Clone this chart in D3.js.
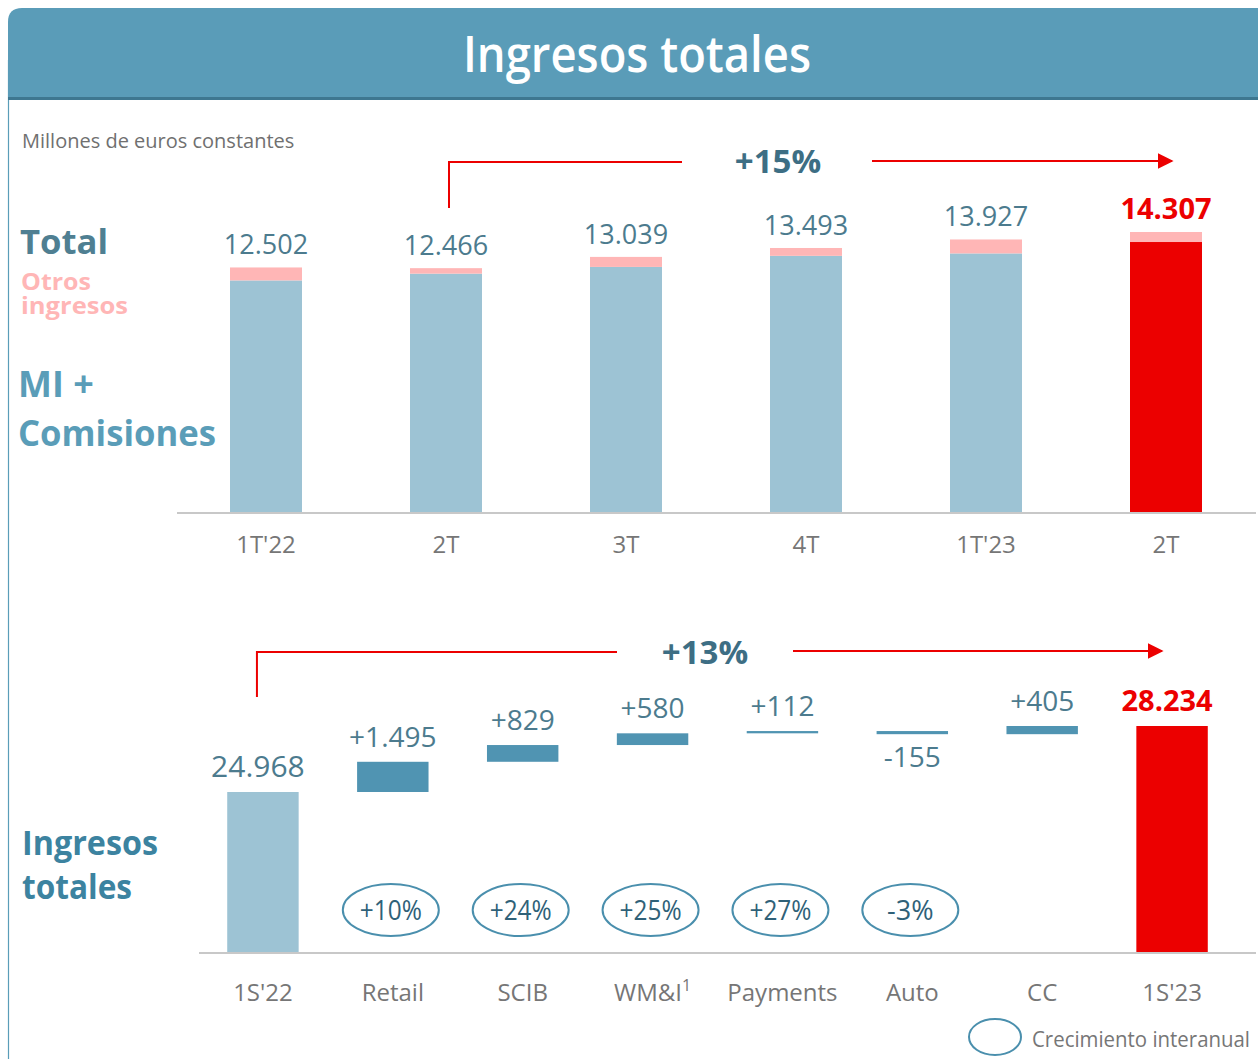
<!DOCTYPE html>
<html><head><meta charset="utf-8">
<script src="https://cdn.jsdelivr.net/npm/d3@7"></script>
<style>
html,body{margin:0;padding:0;background:#fff;}
svg{display:block;font-family:"Open Sans","Lato",sans-serif;}
</style></head>
<body><svg id="c" width="1258" height="1059"></svg>
<script>
// ---- data ----
const topCategories = ["1T'22","2T","3T","4T","1T'23","2T"];
const topTotals = [12502, 12466, 13039, 13493, 13927, 14307];
const topOtros = [660, 280, 510, 400, 710, 510];
const topLabels = ["12.502","12.466","13.039","13.493","13.927","14.307"];

const wfCategories = ["1S'22","Retail","SCIB","WM&I","Payments","Auto","CC","1S'23"];
const wfValues = [24968, 1495, 829, 580, 112, -155, 405, 28234];
const wfLabels = ["24.968","+1.495","+829","+580","+112","-155","+405","28.234"];
const wfGrowth = [null, "+10%", "+24%", "+25%", "+27%", "-3%", null, null];

const C = {
  header:"#5a9cb8", headerDark:"#3e7790", light:"#9dc3d4", dark:"#5094b2",
  red:"#ec0000", pink:"#ffb6b6", label:"#4c7b8e", axis:"#c8c8c8", tick:"#767676",
  teal:"#5a9db8", tealDark:"#3c83a0"
};

const svg = d3.select("#c");

// ---- frame / header ----
svg.append("line").attr("x1",8.5).attr("x2",8.5).attr("y1",60).attr("y2",1059)
  .attr("stroke",C.teal).attr("stroke-width",1.2);
svg.append("path")
  .attr("d","M8,100 L8,22 Q8,8 22,8 L1258,8 L1258,100 Z")
  .attr("fill",C.header);
svg.append("rect").attr("x",8).attr("y",97).attr("width",1250).attr("height",3).attr("fill",C.headerDark);
svg.append("text").attr("x",637).attr("y",72).attr("text-anchor","middle")
  .attr("fill","#fff").attr("font-size",50).attr("font-weight",600)
  .attr("textLength",348).attr("lengthAdjust","spacingAndGlyphs")
  .text("Ingresos totales");

svg.append("text").attr("x",22).attr("y",148).attr("fill","#707070")
  .attr("font-size",20).text("Millones de euros constantes");

// left labels top
svg.append("text").attr("x",20).attr("y",254).attr("fill","#4f7f92").attr("font-size",34)
  .attr("font-weight",700).attr("textLength",88).attr("lengthAdjust","spacingAndGlyphs").text("Total");
const otros = svg.append("text").attr("x",21).attr("y",290).attr("fill",C.pink).attr("font-size",23)
  .attr("font-weight",700);
otros.append("tspan").attr("x",21).attr("textLength",70).attr("lengthAdjust","spacingAndGlyphs").text("Otros");
otros.append("tspan").attr("x",21).attr("dy",24).attr("textLength",107).attr("lengthAdjust","spacingAndGlyphs").text("ingresos");
svg.append("text").attr("x",18).attr("y",397).attr("fill",C.teal).attr("font-size",36)
  .attr("font-weight",700).text("MI +");
svg.append("text").attr("x",18).attr("y",446).attr("fill",C.teal).attr("font-size",36)
  .attr("font-weight",700).attr("textLength",198).attr("lengthAdjust","spacingAndGlyphs").text("Comisiones");

// ---- top chart ----
const xT = d3.scaleBand().domain(d3.range(topCategories.length)).range([176,1256])
  .paddingInner(0.6).paddingOuter(0.3);
const yT = d3.scaleLinear().domain([0, 14307]).range([513, 232]);

const gT = svg.append("g");
topTotals.forEach((t,i)=>{
  const isLast = i === topTotals.length-1;
  const base = t - topOtros[i];
  gT.append("rect").attr("x",xT(i)).attr("width",xT.bandwidth())
    .attr("y",yT(base)).attr("height",yT(0)-yT(base))
    .attr("fill", isLast ? C.red : C.light);
  gT.append("rect").attr("x",xT(i)).attr("width",xT.bandwidth())
    .attr("y",yT(t)).attr("height",yT(base)-yT(t))
    .attr("fill", C.pink);
  gT.append("text").attr("x",xT(i)+xT.bandwidth()/2).attr("y",yT(t)-13)
    .attr("text-anchor","middle").attr("font-size",isLast?29:27)
    .attr("font-weight",isLast?700:400)
    .attr("fill",isLast?C.red:C.label).text(topLabels[i]);
});
const axT = d3.axisBottom(xT).tickFormat(i=>topCategories[i]).tickSize(0).tickPadding(23);
const axTg = svg.append("g").attr("transform","translate(0,513)").call(axT);
axTg.select(".domain").attr("d","M177,0H1256").attr("stroke",C.axis).attr("stroke-width",2);
axTg.selectAll("text").attr("font-size",24).attr("fill",C.tick).attr("font-family","Open Sans");

// top annotation
const defs = svg.append("defs");
defs.append("marker").attr("id","arr").attr("viewBox","0 0 10 10").attr("refX",9).attr("refY",5)
  .attr("markerWidth",16).attr("markerHeight",16).attr("orient","auto").attr("markerUnits","userSpaceOnUse")
  .append("path").attr("d","M0,0 L10,5 L0,10 Z").attr("fill",C.red);

const x2T = xT(1)+xT.bandwidth()/2 + 3;
svg.append("path").attr("d",`M${x2T},208 V162 H682`).attr("fill","none").attr("stroke",C.red).attr("stroke-width",2);
svg.append("path").attr("d","M872,161 H1172").attr("fill","none").attr("stroke",C.red).attr("stroke-width",2)
  .attr("marker-end","url(#arr)");
svg.append("text").attr("x",778).attr("y",173).attr("text-anchor","middle").attr("font-size",33)
  .attr("font-weight",700).attr("fill","#3d6e84").text("+15%");

// ---- waterfall ----
svg.append("text").attr("x",22).attr("y",855).attr("fill",C.tealDark).attr("font-size",34)
  .attr("font-weight",700).attr("textLength",136).attr("lengthAdjust","spacingAndGlyphs").text("Ingresos");
svg.append("text").attr("x",22).attr("y",899).attr("fill",C.tealDark).attr("font-size",34)
  .attr("font-weight",700).attr("textLength",110).attr("lengthAdjust","spacingAndGlyphs").text("totales");

const xB = d3.scaleBand().domain(d3.range(wfCategories.length)).range([198,1237])
  .paddingInner(0.45).paddingOuter(0.225);
const yB = d3.scaleLinear().domain([17000, 28234]).range([953, 726]);

let run = 0;
const gB = svg.append("g");
wfValues.forEach((v,i)=>{
  const first = i===0, last = i===wfValues.length-1;
  let y0, y1, fill;
  if(first){ y0 = yB.domain()[0]; y1 = v; run = v; fill = C.light; }
  else if(last){ y0 = yB.domain()[0]; y1 = v; fill = C.red; }
  else { y0 = run; y1 = run + v; run = y1; fill = C.dark; }
  const top = yB(Math.max(y0,y1)), bot = yB(Math.min(y0,y1));
  gB.append("rect").attr("x",xB(i)).attr("width",xB.bandwidth())
    .attr("y",top).attr("height",Math.max(bot-top,2)).attr("fill",fill);
  const cx = xB(i)+xB.bandwidth()/2;
  const below = v < 0 && !first && !last;
  gB.append("text").attr("x",(first||last) ? cx-5 : cx).attr("y", below ? bot+33 : top-15)
    .attr("text-anchor","middle").attr("font-size",last?29:(first?30:28)).attr("font-weight",last?700:400)
    .attr("fill",last?C.red:C.label).text(wfLabels[i]);
  if(wfGrowth[i]){
    gB.append("ellipse").attr("cx",cx-2).attr("cy",910).attr("rx",48).attr("ry",26)
      .attr("fill","none").attr("stroke","#4a8fad").attr("stroke-width",2);
    gB.append("text").attr("x",cx-2).attr("y",920).attr("text-anchor","middle")
      .attr("font-size",28).attr("fill","#2f6178")
      .attr("textLength", wfGrowth[i].length*15.5).attr("lengthAdjust","spacingAndGlyphs")
      .text(wfGrowth[i]);
  }
});
const axB = d3.axisBottom(xB).tickFormat(i=>wfCategories[i]).tickSize(0).tickPadding(31);
const axBg = svg.append("g").attr("transform","translate(0,953)").call(axB);
axBg.select(".domain").attr("d","M199,0H1256").attr("stroke",C.axis).attr("stroke-width",2);
axBg.selectAll("text").attr("font-size",24).attr("fill",C.tick).attr("font-family","Open Sans");
// superscript for WM&I
axBg.selectAll(".tick").filter(i=>wfCategories[i]==="WM&I").select("text")
  .append("tspan").attr("dy","-0.6em").attr("font-size",16).text("1");

// bottom annotation
const x1B = xB(0)+xB.bandwidth()/2 - 6;
svg.append("path").attr("d",`M${x1B},697 V652 H617`).attr("fill","none").attr("stroke",C.red).attr("stroke-width",2);
svg.append("path").attr("d","M793,651 H1162").attr("fill","none").attr("stroke",C.red).attr("stroke-width",2)
  .attr("marker-end","url(#arr)");
svg.append("text").attr("x",705).attr("y",664).attr("text-anchor","middle").attr("font-size",33)
  .attr("font-weight",700).attr("fill","#3d6e84").text("+13%");

// legend
svg.append("ellipse").attr("cx",995).attr("cy",1037).attr("rx",26).attr("ry",18)
  .attr("fill","none").attr("stroke","#4a8fad").attr("stroke-width",2);
svg.append("text").attr("x",1032).attr("y",1047).attr("font-size",21).attr("fill",C.tick)
  .attr("textLength",218).attr("lengthAdjust","spacingAndGlyphs").text("Crecimiento interanual");
</script></body></html>
